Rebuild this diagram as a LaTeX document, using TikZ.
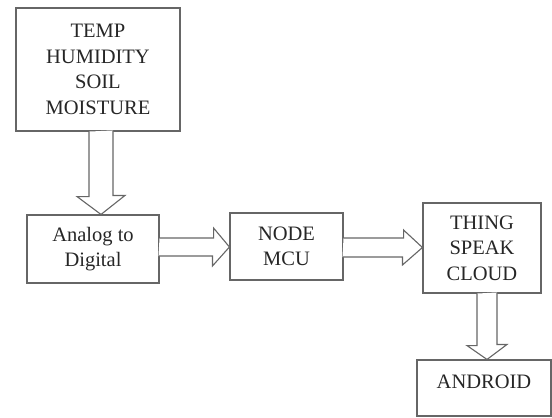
\documentclass[tikz,border=0pt]{standalone}
\usepackage{fontspec}
\setmainfont{Liberation Serif}
\usetikzlibrary{calc}
\tikzset{
  blockbox/.style={draw=black!60, line width=1.1pt, rectangle, align=center, inner sep=0pt,
    text=black!85, font=\fontsize{20.5}{25.5}\selectfont},
  fatarrow/.style={draw=black!60, line width=1.1pt, line join=miter, fill=white}
}
\begin{document}
\begin{tikzpicture}[x=1pt,y=-1pt]
\useasboundingbox (0,0) rectangle (552,418);
\node[blockbox, minimum width=164pt, minimum height=123pt] (sens) at (98,69.5) {TEMP\\HUMIDITY\\SOIL\\MOISTURE};
\node[blockbox, minimum width=132pt, minimum height=68pt] (adc) at (93,249) {Analog to\\Digital};
\node[blockbox, minimum width=113pt, minimum height=67pt] (mcu) at (286.5,246.5) {NODE\\MCU};
\node[blockbox, minimum width=118pt, minimum height=90pt] (cloud) at (482,248) {THING\\SPEAK\\CLOUD};
\node[blockbox, minimum width=134pt, minimum height=56pt, text depth=12pt] (app) at (484,388) {ANDROID};
% arrow sens -> adc (vertical)
\path (sens.south) ++(3,0) coordinate (a1s);
\path (adc.north) coordinate (a1e);
\draw[fatarrow] (a1s) ++(-12,0) -- ++(0,65) -- ++(-12,0) -- ($(a1s |- a1e)$) -- ++(24,-19) -- ++(-12,0) -- ++(0,-65);
% arrow adc -> mcu
\path (adc.east) ++(0,-2) coordinate (a2s);
\path (mcu.west) coordinate (a2e);
\draw[fatarrow] (a2s) ++(0,-9) -- ++(54,0) -- ++(0,-10) -- ($(a2e |- a2s)$) -- ++(-17,19) -- ++(0,-10) -- ++(-54,0);
% arrow mcu -> cloud
\path (mcu.east) ++(0,1) coordinate (a3s);
\path (cloud.west) coordinate (a3e);
\draw[fatarrow] (a3s) ++(0,-9.5) -- ++(60,0) -- ++(0,-8) -- ($(a3e |- a3s)$) -- ++(-20,17.5) -- ++(0,-8) -- ++(-60,0);
% arrow cloud -> app
\path (cloud.south) ++(5,0) coordinate (a4s);
\path (app.north) coordinate (a4e);
\draw[fatarrow] (a4s) ++(-10,0) -- ++(0,52) -- ++(-10,0) -- ($(a4s |- a4e)$) -- ++(20,-15) -- ++(-10,0) -- ++(0,-52);
\end{tikzpicture}
\end{document}
